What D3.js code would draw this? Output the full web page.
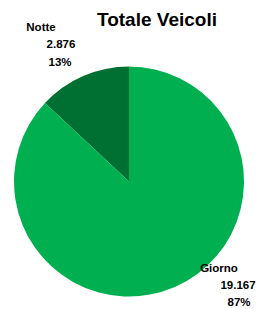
<!DOCTYPE html>
<html>
<head>
<meta charset="utf-8">
<script src="https://cdn.jsdelivr.net/npm/d3@7"></script>
<style>
  body { margin: 0; background: #fff; }
  text { font-family: "Liberation Sans", Arial, sans-serif; font-weight: bold; fill: #000; }
</style>
</head>
<body>
<div id="chart"></div>
<script>
// data
const categories = ["Notte", "Giorno"];
const values = [2876, 19167];
const percents = ["13%", "87%"];
const colors = ["#006F32", "#00B050"];

const w = 263;
const h = 309;
const cx = 129, cy = 181.5, r = 115;

const svg = d3.select("#chart").append("svg")
  .attr("width", w)
  .attr("height", h);

svg.append("text")
  .attr("x", 157)
  .attr("y", 26)
  .attr("text-anchor", "middle")
  .style("font-size", "19px")
  .text("Totale Veicoli");

// pie, Notte starts counter-clockwise from top
const share = values[0] / d3.sum(values);
const pie = d3.pie().sort(null)
  .startAngle(-2 * Math.PI * share)
  .endAngle(2 * Math.PI - 2 * Math.PI * share);
const arc = d3.arc().innerRadius(0).outerRadius(r);

const g = svg.append("g").attr("transform", "translate(" + cx + "," + cy + ")");

g.selectAll("path")
  .data(pie(values))
  .enter().append("path")
  .attr("d", arc)
  .attr("fill", (d, i) => colors[i]);

// labels (Excel-style, three lines each)
const fmt = v => d3.format(",")(v).replace(/,/g, ".");
const labelPos = [
  [[41, 31], [61, 48], [60, 66]],
  [[219, 272], [238, 289], [239, 306]]
];

categories.forEach((c, i) => {
  const lines = [c, fmt(values[i]), percents[i]];
  lines.forEach((t, j) => {
    svg.append("text")
      .attr("x", labelPos[i][j][0])
      .attr("y", labelPos[i][j][1])
      .attr("text-anchor", "middle")
      .style("font-size", "11.5px")
      .text(t);
  });
});
</script>
</body>
</html>
